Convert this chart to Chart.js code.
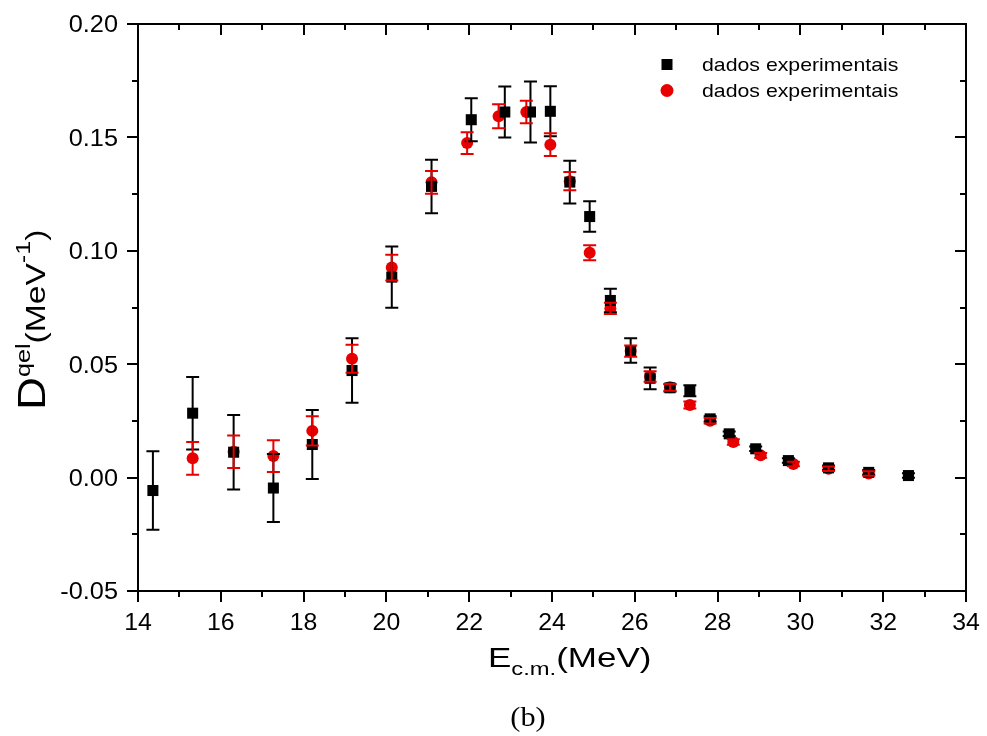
<!DOCTYPE html>
<html lang="pt">
<head>
<meta charset="UTF-8">
<title>Dqel x Ecm</title>
<style>
    html, body { margin: 0; padding: 0; background: #fff; }
    #wrap { width: 987px; height: 736px; }
</style>
</head>
<body>
<div id="wrap"><canvas id="grafico" width="987" height="736"></canvas></div>

<script src="https://cdn.jsdelivr.net/npm/chart.js"></script>
<script>
    // dados experimentais (quadrados pretos)
    const energiaPreto = [14.36, 15.32, 16.31, 17.27, 18.21, 19.17, 20.13, 21.09, 22.05, 22.86, 23.48, 23.96, 24.43,
        24.91, 25.41, 25.90, 26.37, 26.85, 27.33, 27.82, 28.28, 28.92, 29.71, 30.68, 31.65, 32.61];
    const dqelPreto = [-0.0057, 0.0284, 0.0112, -0.0046, 0.0146, 0.0472, 0.0884, 0.1284, 0.1578, 0.1612, 0.1612, 0.1615, 0.1303,
        0.1151, 0.0781, 0.0560, 0.0438, 0.0396, 0.0383, 0.0259, 0.0193, 0.0127, 0.0075, 0.0043, 0.0023, 0.0009];
    const erroPreto = [0.0173, 0.0160, 0.0164, 0.0150, 0.0152, 0.0142, 0.0135, 0.0118, 0.0095, 0.0112, 0.0135, 0.0110, 0.0094,
        0.0067, 0.0052, 0.0054, 0.0048, 0.0016, 0.0024, 0.0012, 0.0010, 0.0010, 0.0010, 0.0010, 0.0010, 0.0010];

    // dados experimentais (circulos vermelhos)
    const energiaVermelho = [15.32, 16.31, 17.27, 18.21, 19.17, 20.13, 21.09, 21.95, 22.71, 23.38, 23.96, 24.43,
        24.91, 25.41, 25.90, 26.37, 26.85, 27.33, 27.82, 28.38, 29.04, 29.83, 30.68, 31.65];
    const dqelVermelho = [0.0085, 0.0114, 0.0095, 0.0206, 0.0524, 0.0926, 0.1302, 0.1475, 0.1593, 0.1612, 0.1468, 0.1307,
        0.0991, 0.0746, 0.0558, 0.0446, 0.0398, 0.0320, 0.0251, 0.0157, 0.0098, 0.0060, 0.0039, 0.0018];
    const erroVermelho = [0.0072, 0.0072, 0.0070, 0.0065, 0.0062, 0.0057, 0.0050, 0.0048, 0.0053, 0.0050, 0.0050, 0.0040,
        0.0033, 0.0025, 0.0025, 0.0023, 0.0015, 0.0015, 0.0012, 0.0012, 0.0010, 0.0010, 0.0010, 0.0010];

    const legendas = ['dados experimentais', 'dados experimentais'];
    const limitesX = [14, 34];
    const limitesY = [-0.05, 0.20];

    const PRETO = '#000000';
    const VERMELHO = '#e60000';
    const FONTE = "'Liberation Sans', Arial, sans-serif";
    const ESTICA = 1.15; // texto da figura original e mais largo

    function juntar(xs, ys) {
        return xs.map((x, i) => ({ x: x, y: ys[i] }));
    }

    // escreve texto com largura esticada
    function texto(ctx, str, x, y, tam, alinha, sx, familia) {
        ctx.save();
        ctx.translate(x, y);
        ctx.scale(sx, 1);
        ctx.font = tam + 'px ' + (familia || FONTE);
        ctx.textAlign = alinha;
        ctx.textBaseline = 'alphabetic';
        ctx.fillStyle = '#000';
        ctx.fillText(str, 0, 0);
        ctx.restore();
    }

    // texto com sub/sobrescritos, a partir de (0,0)
    function textoRico(ctx, partes, sx) {
        let pos = 0;
        partes.forEach(p => {
            ctx.font = p.tam + 'px ' + FONTE;
            const w = ctx.measureText(p.t).width * sx;
            texto(ctx, p.t, pos, p.dy, p.tam, 'left', sx);
            pos += w;
        });
    }

    const errosPlugin = {
        id: 'barrasErro',
        afterDatasetsDraw(chart) {
            const ctx = chart.ctx;
            const sx = chart.scales.x, sy = chart.scales.y;
            const conjuntos = [
                { xs: energiaPreto, ys: dqelPreto, es: erroPreto, cor: PRETO },
                { xs: energiaVermelho, ys: dqelVermelho, es: erroVermelho, cor: VERMELHO }
            ];
            ctx.save();
            ctx.lineWidth = 2;
            conjuntos.forEach(c => {
                ctx.strokeStyle = c.cor;
                c.xs.forEach((x, i) => {
                    const px = sx.getPixelForValue(x);
                    const topo = sy.getPixelForValue(c.ys[i] + c.es[i]);
                    const base = sy.getPixelForValue(c.ys[i] - c.es[i]);
                    ctx.beginPath();
                    ctx.moveTo(px, topo); ctx.lineTo(px, base);
                    ctx.moveTo(px - 6.5, topo); ctx.lineTo(px + 6.5, topo);
                    ctx.moveTo(px - 6.5, base); ctx.lineTo(px + 6.5, base);
                    ctx.stroke();
                });
            });
            ctx.restore();
        }
    };

    const eixosPlugin = {
        id: 'moldura',
        afterDraw(chart) {
            const ctx = chart.ctx;
            const a = chart.chartArea;
            const sx = chart.scales.x, sy = chart.scales.y;
            ctx.save();
            ctx.strokeStyle = '#000';
            ctx.lineWidth = 2;
            ctx.strokeRect(a.left, a.top, a.right - a.left, a.bottom - a.top);

            // marcas do eixo x (principais e secundarias)
            const tx = sx.ticks.map(t => t.value);
            const marcasX = [];
            tx.forEach((v, i) => {
                marcasX.push({ v: v, maior: true });
                if (i < tx.length - 1) marcasX.push({ v: (v + tx[i + 1]) / 2, maior: false });
            });
            ctx.beginPath();
            marcasX.forEach(m => {
                const p = Math.round(sx.getPixelForValue(m.v));
                const L = m.maior ? 11 : 6;
                ctx.moveTo(p, a.bottom); ctx.lineTo(p, a.bottom + L);
                ctx.moveTo(p, a.top); ctx.lineTo(p, a.top + L);
            });
            // marcas do eixo y
            const ty = sy.ticks.map(t => t.value);
            const marcasY = [];
            ty.forEach((v, i) => {
                marcasY.push({ v: v, maior: true });
                if (i < ty.length - 1) marcasY.push({ v: (v + ty[i + 1]) / 2, maior: false });
            });
            marcasY.forEach(m => {
                const p = Math.round(sy.getPixelForValue(m.v));
                const L = m.maior ? 11 : 6;
                ctx.moveTo(a.left, p); ctx.lineTo(a.left - L, p);
                ctx.moveTo(a.right, p); ctx.lineTo(a.right - L, p);
            });
            ctx.stroke();

            // rotulos dos ticks
            tx.forEach(v => {
                texto(ctx, String(v), sx.getPixelForValue(v), 630, 23, 'center', 1.08);
            });
            ty.forEach(v => {
                texto(ctx, v.toFixed(2), 118, sy.getPixelForValue(v) + 8.3, 23, 'right', 1.1);
            });

            // titulo do eixo x
            ctx.save();
            ctx.translate(488, 667);
            textoRico(ctx, [
                { t: 'E', tam: 28, dy: 0 },
                { t: 'c.m.', tam: 19, dy: 8 },
                { t: '(MeV)', tam: 28, dy: 0 }
            ], 1.25);
            ctx.restore();

            // titulo do eixo y
            ctx.save();
            ctx.translate(45, 410);
            ctx.rotate(-Math.PI / 2);
            textoRico(ctx, [
                { t: 'D', tam: 38, dy: 0 },
                { t: 'qel', tam: 21, dy: -15 },
                { t: '(MeV', tam: 28, dy: 0 },
                { t: '-1', tam: 21, dy: -15 },
                { t: ')', tam: 28, dy: 0 }
            ], 1.2);
            ctx.restore();

            // legenda
            ctx.fillStyle = PRETO;
            ctx.fillRect(661.5, 59, 11, 11);
            ctx.fillStyle = VERMELHO;
            ctx.beginPath();
            ctx.arc(667, 90.5, 6.5, 0, Math.PI * 2);
            ctx.fill();
            texto(ctx, legendas[0], 702, 70.5, 19, 'left', 1.12);
            texto(ctx, legendas[1], 702, 96.5, 19, 'left', 1.12);

            // (b)
            texto(ctx, '(b)', 528, 726, 27, 'center', 1.12, "'Liberation Serif', 'Times New Roman', serif");
            ctx.restore();
        }
    };

    new Chart(document.getElementById('grafico').getContext('2d'), {
        type: 'scatter',
        data: {
            datasets: [{
                label: legendas[0],
                data: juntar(energiaPreto, dqelPreto),
                pointStyle: 'rect',
                pointRadius: 7.8,
                pointHoverRadius: 7.8,
                backgroundColor: PRETO,
                borderWidth: 0
            }, {
                label: legendas[1],
                data: juntar(energiaVermelho, dqelVermelho),
                pointStyle: 'circle',
                pointRadius: 6,
                pointHoverRadius: 6,
                backgroundColor: VERMELHO,
                borderWidth: 0
            }]
        },
        options: {
            responsive: false,
            animation: false,
            events: [],
            layout: { padding: { top: 24, right: 21, left: 0, bottom: 0 } },
            plugins: {
                legend: { display: false },
                tooltip: { enabled: false }
            },
            scales: {
                x: {
                    type: 'linear',
                    min: limitesX[0],
                    max: limitesX[1],
                    ticks: { stepSize: 2, display: false },
                    grid: { display: false, drawTicks: false },
                    border: { display: false },
                    afterFit(scale) { scale.height = 145; }
                },
                y: {
                    type: 'linear',
                    min: limitesY[0],
                    max: limitesY[1],
                    ticks: { stepSize: 0.05, display: false },
                    grid: { display: false, drawTicks: false },
                    border: { display: false },
                    afterFit(scale) { scale.width = 138; }
                }
            }
        },
        plugins: [errosPlugin, eixosPlugin]
    });
</script>
</body>
</html>
